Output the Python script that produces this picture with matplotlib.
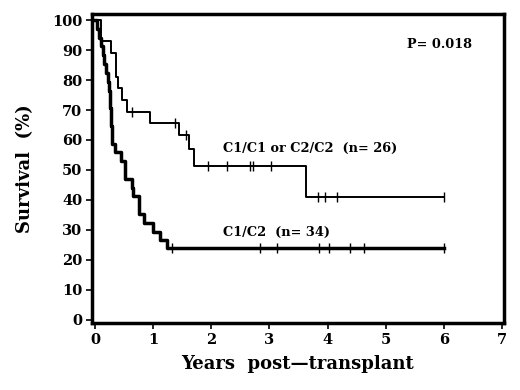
import matplotlib
matplotlib.use("Agg")
import matplotlib.pyplot as plt

# Upper group: C1/C1 or C2/C2 (n=26)
up_times = [0.0, 0.10, 0.28, 0.36, 0.39, 0.47, 0.55, 0.95, 1.45, 1.62, 1.71, 3.63, 6.0]
up_surv = [100, 93.0, 89.0, 81.0, 77.5, 73.5, 69.5, 65.5, 61.5, 57.0, 51.3, 41.0, 41.0]
up_cens_t = [0.64, 1.38, 1.57, 1.94, 2.27, 2.66, 2.72, 3.02, 3.83, 3.95, 4.17, 6.0]

# Lower group: C1/C2 (n=34)
lo_times = [0.0, 0.04, 0.07, 0.10, 0.13, 0.16, 0.19, 0.22, 0.24, 0.255, 0.265, 0.275,
            0.28, 0.29, 0.30, 0.35, 0.44, 0.51, 0.64, 0.655, 0.75, 0.84, 1.0, 1.12,
            1.24, 6.01]
lo_surv = [100, 97.1, 94.1, 91.2, 88.2, 85.3, 82.4, 79.4, 76.5, 73.5, 70.6, 67.6,
           64.7, 61.8, 58.8, 55.9, 52.9, 47.1, 44.1, 41.2, 35.3, 32.4, 29.4, 26.5,
           24.0, 24.0]
lo_cens_t = [1.33, 2.84, 3.13, 3.86, 4.03, 4.39, 4.62, 6.01]

x_ticks = list(range(0, 8))
y_ticks = list(range(0, 101, 10))

def level_at(times, surv, t):
    v = surv[0]
    for tt, s in zip(times, surv):
        if tt <= t:
            v = s
    return v

fig = plt.figure(figsize=(5.2, 3.9), dpi=100)
ax = fig.add_axes([0.177, 0.172, 0.792, 0.792])

ax.step(up_times, up_surv, where="post", color="black", lw=1.4)
ax.step(lo_times, lo_surv, where="post", color="black", lw=2.5)
ax.plot(up_cens_t, [level_at(up_times, up_surv, t) for t in up_cens_t],
        ls="none", marker="|", ms=7, mew=1.0, color="black")
ax.plot(lo_cens_t, [level_at(lo_times, lo_surv, t) for t in lo_cens_t],
        ls="none", marker="|", ms=7, mew=1.0, color="black")

ax.set_xlim(-0.052, 7.034)
ax.set_ylim(-1, 102)
ax.set_xticks(x_ticks)
ax.set_yticks(y_ticks)

font = dict(family="DejaVu Serif", weight="bold")
ax.set_xticklabels([str(v) for v in x_ticks], fontsize=10.5, **font)
ax.set_yticklabels([str(v) for v in y_ticks], fontsize=10.5, **font)
ax.tick_params(axis="both", direction="out", length=4, width=1.2, pad=3)

for s in ax.spines.values():
    s.set_linewidth(2.5)

ax.set_xlabel("Years  post\u2014transplant", fontsize=13, labelpad=6, **font)
ax.set_ylabel("Survival  (%)", fontsize=13, labelpad=13, **font)

ax.text(2.2, 57.2, "C1/C1 or C2/C2  (n= 26)", fontsize=9.3, va="center", ha="left", **font)
ax.text(2.2, 29.1, "C1/C2  (n= 34)", fontsize=9.3, va="center", ha="left", **font)
ax.text(5.36, 92, "P= 0.018", fontsize=9.3, va="center", ha="left", **font)

fig.savefig("out.png", dpi=100)
